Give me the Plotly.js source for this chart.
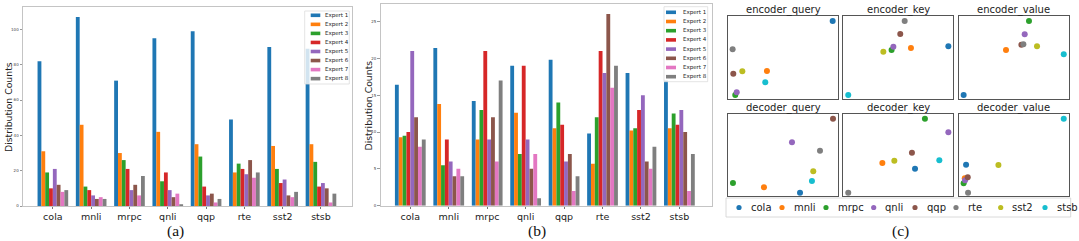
<!DOCTYPE html>
<html><head><meta charset="utf-8">
<script src="https://cdn.plot.ly/plotly-3.0.1.min.js"></script>
<style>html,body{margin:0;padding:0;background:#fff}#chart{width:1079px;height:241px}</style>
</head><body><div id="chart"></div>
<script>
// ---------- data ----------
const tasks = ['cola','mnli','mrpc','qnli','qqp','rte','sst2','stsb'];
const experts = ['Expert 1','Expert 2','Expert 3','Expert 4','Expert 5','Expert 6','Expert 7','Expert 8'];

// panel (a) distribution counts per expert (tasks order)
const aExpert1 = [82, 107, 71, 95, 99, 49, 90, 89];
const aExpert2 = [31, 46, 30, 42, 35, 19, 34, 35];
const aExpert3 = [19, 11, 26, 14, 28, 24, 21, 25];
const aExpert4 = [10, 9, 21, 19, 11, 21, 13, 11];
const aExpert5 = [21, 6, 9, 9, 6, 18, 15, 13];
const aExpert6 = [12, 4, 12, 5, 7, 26, 6, 10];
const aExpert7 = [8, 5, 6, 7, 2, 16, 5, 2];
const aExpert8 = [9, 4, 17, 1, 4, 19, 8, 7];

// panel (b)
const bExpert1 = [16.4, 21.4, 14.2, 19, 19.8, 9.8, 18, 17];
const bExpert2 = [9.3, 13.8, 9, 12.6, 10.5, 5.7, 10.2, 10.5];
const bExpert3 = [9.5, 5.5, 13, 7, 14, 12, 10.5, 12.5];
const bExpert4 = [10, 9, 21, 19, 11, 21, 13, 11];
const bExpert5 = [21, 6, 9, 9, 6, 18, 15, 13];
const bExpert6 = [12, 4, 12, 5, 7, 26, 6, 10];
const bExpert7 = [8, 5, 6, 7, 2, 16, 5, 2];
const bExpert8 = [9, 4, 17, 1, 4, 19, 8, 7];

// panel (c) embeddings (tasks order)
const subplotTitles = ['encoder_query','encoder_key','encoder_value','decoder_query','decoder_key','decoder_value'];
const encoderQueryX = [94.9, 35.3, 6.6, 7.9, 4.8, 4.2, 13.0, 33.8];
const encoderQueryY = [94.0, 33.5, 4.4, 7.7, 30.2, 59.7, 33.1, 19.8];
const encoderKeyX   = [95.5, 61.5, 43.9, 45.5, 51.8, 55.8, 36.4, 4.5];
const encoderKeyY   = [63.3, 61.3, 58.9, 62.9, 78.2, 94.0, 56.9, 4.4];
const encoderValueX = [4.5, 43.0, 63.9, 60.0, 57.0, 58.8, 71.2, 95.5];
const encoderValueY = [4.4, 58.9, 94.0, 77.8, 65.3, 65.7, 63.3, 53.6];
const decoderQueryX = [65.3, 32.6, 4.5, 58.0, 95.2, 83.4, 77.3, 76.1];
const decoderQueryY = [4.1, 10.6, 15.9, 65.4, 94.3, 55.3, 30.1, 18.3];
const decoderKeyX   = [65.2, 35.5, 74.2, 95.5, 62.4, 4.5, 46.4, 87.3];
const decoderKeyY   = [33.3, 40.2, 94.3, 77.6, 52.8, 4.1, 43.1, 43.5];
const decoderValueX = [6.7, 5.5, 4.5, 5.8, 8.2, 8.5, 36.1, 95.5];
const decoderValueY = [38.2, 21.5, 15.4, 19.1, 22.8, 4.1, 37.8, 94.3];

// ---------- styles ----------
const W = 1079, H = 241;
const px = x => x / W, py = y => 1 - y / H;
const expertColors = ['#1f77b4','#ff7f0e','#2ca02c','#d62728','#9467bd','#8c564b','#e377c2','#7f7f7f'];
const taskColors = ['#1f77b4','#ff7f0e','#2ca02c','#9467bd','#8c564b','#7f7f7f','#bcbd22','#17becf'];
const FONT = 'DejaVu Sans, sans-serif';
const TXT = '#222';

const aSeries = [aExpert1,aExpert2,aExpert3,aExpert4,aExpert5,aExpert6,aExpert7,aExpert8];
const bSeries = [bExpert1,bExpert2,bExpert3,bExpert4,bExpert5,bExpert6,bExpert7,bExpert8];
const scatterX = [encoderQueryX, encoderKeyX, encoderValueX, decoderQueryX, decoderKeyX, decoderValueX];
const scatterY = [encoderQueryY, encoderKeyY, encoderValueY, decoderQueryY, decoderKeyY, decoderValueY];

const traces = [];
experts.forEach((e, i) => {
  traces.push({type:'bar', x: tasks, y: aSeries[i], name: e, xaxis:'x', yaxis:'y',
    marker:{color: expertColors[i], line:{width:0}}, showlegend:false, hoverinfo:'skip'});
});
experts.forEach((e, i) => {
  traces.push({type:'bar', x: tasks, y: bSeries[i], name: e, xaxis:'x2', yaxis:'y2',
    marker:{color: expertColors[i], line:{width:0}}, showlegend:false, hoverinfo:'skip'});
});
subplotTitles.forEach((t, s) => {
  traces.push({type:'scatter', mode:'markers', x: scatterX[s], y: scatterY[s],
    xaxis:'x' + (s + 3), yaxis:'y' + (s + 3),
    marker:{color: taskColors, size: 6}, showlegend:false, hoverinfo:'skip'});
});

const barAxisX = (dom, range, anchor) => ({
  domain: dom, range: range, anchor: anchor, type:'category',
  showline:true, mirror:true, linecolor:'#c4c4c4', linewidth:1,
  ticks:'outside', ticklen:2, tickcolor:'#555', tickwidth:0.8,
  tickfont:{family:FONT, size:9.5, color:TXT}, showgrid:false, zeroline:false
});
const barAxisY = (dom, range, dtick, anchor) => ({
  domain: dom, range: range, anchor: anchor, dtick: dtick, tick0: 0,
  showline:true, mirror:true, linecolor:'#c4c4c4', linewidth:1,
  ticks:'outside', ticklen:2.5, tickcolor:'#555', tickwidth:0.6,
  tickfont:{family:FONT, size:4, color:'#444'}, showgrid:false, zeroline:false
});

const layout = {
  width: W, height: H, margin:{l:0,r:0,t:0,b:0},
  paper_bgcolor:'#fff', plot_bgcolor:'#fff',
  barmode:'group', bargap:0.2, bargroupgap:0,
  showlegend:false,
  xaxis: barAxisX([px(23), px(352)], [-0.78, 7.81], 'y'),
  yaxis: barAxisY([py(206), py(7)], [0, 112.7], 20, 'x'),
  xaxis2: barAxisX([px(380.7), px(711.7)], [-0.77, 7.84], 'y2'),
  yaxis2: barAxisY([py(205.7), py(4)], [0, 27.37], 5, 'x2'),
  shapes: [], annotations: []
};

// scatter subplot domains
const colX = [[728, 838.3], [843.3, 953.3], [958.7, 1068.7]];
const rowY = [[16, 98.7], [114, 196]];
const titleY = [10, 107.7];
subplotTitles.forEach((t, s) => {
  const c = s % 3, r = Math.floor(s / 3);
  const ax = {
    domain:[px(colX[c][0]), px(colX[c][1])], range:[0, 100],
    showline:true, mirror:true, linecolor:'#555', linewidth:1,
    showticklabels:false, ticks:'', showgrid:false, zeroline:false
  };
  const ay = {
    domain:[py(rowY[r][1]), py(rowY[r][0])], range:[0, 100],
    showline:true, mirror:true, linecolor:'#555', linewidth:1,
    showticklabels:false, ticks:'', showgrid:false, zeroline:false
  };
  layout['xaxis' + (s + 3)] = Object.assign(ax, {anchor:'y' + (s + 3)});
  layout['yaxis' + (s + 3)] = Object.assign(ay, {anchor:'x' + (s + 3)});
  layout.annotations.push({xref:'paper', yref:'paper', x: px((colX[c][0] + colX[c][1]) / 2), y: py(titleY[r]),
    xanchor:'center', yanchor:'middle', showarrow:false, text: t,
    font:{family:FONT, size:10, color:TXT}});
});

// y axis titles
[[8, 107], [367.5, 106]].forEach(p => {
  layout.annotations.push({xref:'paper', yref:'paper', x: px(p[0]), y: py(p[1]), textangle:-90,
    xanchor:'center', yanchor:'middle', showarrow:false, text:'Distribution Counts',
    font:{family:FONT, size:9.3, color:TXT}});
});

// bar legends
const barLegends = [
  {box:[304.7, 11, 349.3, 84], sw:[310.7, 320.3], tx:323.3, y0:15.3, dy:9.05},
  {box:[664, 6.7, 707.7, 81.7], sw:[666, 676], tx:681.3, y0:12.3, dy:9.2}
];
barLegends.forEach(L => {
  layout.shapes.push({type:'rect', xref:'paper', yref:'paper', layer:'above',
    x0:px(L.box[0]), x1:px(L.box[2]), y0:py(L.box[3]), y1:py(L.box[1]),
    fillcolor:'rgba(255,255,255,0.8)', line:{color:'#dcdcdc', width:0.8}});
  experts.forEach((e, i) => {
    const yc = L.y0 + i * L.dy;
    layout.shapes.push({type:'rect', xref:'paper', yref:'paper', layer:'above',
      x0:px(L.sw[0]), x1:px(L.sw[1]), y0:py(yc + 1.8), y1:py(yc - 1.8),
      fillcolor: expertColors[i], line:{width:0}});
    layout.annotations.push({xref:'paper', yref:'paper', x:px(L.tx), y:py(yc),
      xanchor:'left', yanchor:'middle', showarrow:false, text:e,
      font:{family:FONT, size:5.5, color:TXT}});
  });
});

// scatter legend
layout.shapes.push({type:'rect', xref:'paper', yref:'paper', layer:'above',
  x0:px(726), x1:px(1070.7), y0:py(217), y1:py(198),
  fillcolor:'rgba(255,255,255,0.8)', line:{color:'#d0d0d0', width:0.8}});
const legendMarkerX = [739, 782, 826, 873.7, 915, 956, 1000.7, 1045];
tasks.forEach((t, i) => {
  layout.shapes.push({type:'circle', xref:'paper', yref:'paper', layer:'above',
    xsizemode:'pixel', ysizemode:'pixel', xanchor:px(legendMarkerX[i]), yanchor:py(207.5),
    x0:-2.6, x1:2.6, y0:-2.6, y1:2.6, fillcolor:taskColors[i], line:{width:0}});
  layout.annotations.push({xref:'paper', yref:'paper', x:px(legendMarkerX[i] + 9.5), y:py(207.5),
    xanchor:'left', yanchor:'middle', showarrow:false, text:t,
    font:{family:FONT, size:10, color:TXT}});
});

// panel labels
[['(a)', 175], ['(b)', 536.7], ['(c)', 900]].forEach(p => {
  layout.annotations.push({xref:'paper', yref:'paper', x:px(p[1]), y:py(230.5), xanchor:'center', yanchor:'middle',
    showarrow:false, borderpad:0, text:p[0], font:{family:'Liberation Serif, Times New Roman, serif', size:15.5, color:'#111'}});
});

Plotly.newPlot('chart', traces, layout, {staticPlot:true, displayModeBar:false});
</script></body></html>
